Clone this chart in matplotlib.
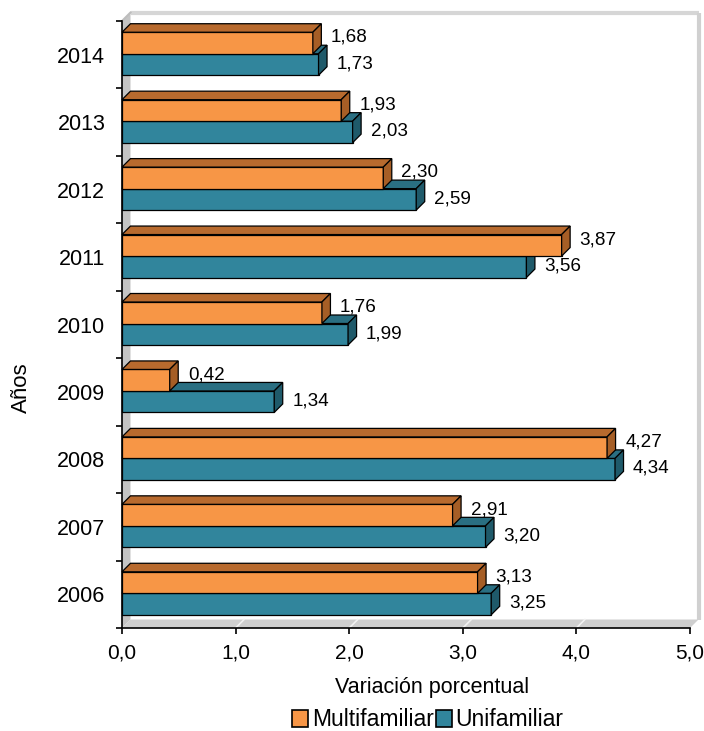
import matplotlib
matplotlib.use('Agg')
import matplotlib.pyplot as plt
from matplotlib.patches import Polygon, Patch
import numpy as np

years = ['2006', '2007', '2008', '2009', '2010', '2011', '2012', '2013', '2014']
multifamiliar = [3.13, 2.91, 4.27, 0.42, 1.76, 3.87, 2.30, 1.93, 1.68]
unifamiliar = [3.25, 3.20, 4.34, 1.34, 1.99, 3.56, 2.59, 2.03, 1.73]
xticks = [0, 1, 2, 3, 4, 5]
xticklabels = ['0,0', '1,0', '2,0', '3,0', '4,0', '5,0']
series_names = ['Multifamiliar', 'Unifamiliar']

plt.rcParams['font.family'] = ['Liberation Sans', 'DejaVu Sans']

W, H = 704, 731
fig = plt.figure(figsize=(W / 100, H / 100), dpi=100)
L, R, T, B = 122, 690, 21, 628
ax = fig.add_axes([L / W, 1 - B / H, (R - L) / W, (B - T) / H])
n = len(years)
XMAX = 5
ax.set_xlim(0, XMAX)
ax.set_ylim(-0.5, n - 0.5)
pxx = XMAX / (R - L)
pxy = n / (B - T)
DX = 8.5 * pxx
DY = 8.5 * pxy
bh = 21.5 * pxy
shift = 1 * pxy

ORANGE = '#F79646'
ORANGE_TOP = '#B86A2E'
ORANGE_SIDE = '#A65E26'
BLUE = '#31859C'
BLUE_TOP = '#2A6F82'
BLUE_SIDE = '#1F5A6A'

# walls
ylo, yhi = -0.5, n - 0.5
ax.add_patch(Polygon([(0, ylo), (0, yhi), (DX, yhi + DY), (DX, ylo + DY)],
                     closed=True, fc='#C4C4C4', ec='none', zorder=1, clip_on=False))
ax.add_patch(Polygon([(0, ylo), (XMAX, ylo), (XMAX + DX, ylo + DY), (DX, ylo + DY)],
                     closed=True, fc='#CFCFCF', ec='none', zorder=1, clip_on=False))
ax.plot([DX, XMAX + DX], [yhi + DY, yhi + DY], color='#D6D6D6', lw=3, zorder=1,
        clip_on=False, solid_capstyle='butt')
ax.plot([0, DX], [yhi, yhi + DY], color='#BDBDBD', lw=1.5, zorder=1, clip_on=False)
ax.plot([XMAX + DX, XMAX + DX], [ylo + DY, yhi + DY], color='#D0D0D0', lw=3,
        zorder=1, clip_on=False, solid_capstyle='butt')
for xv in xticks[1:-1]:
    ax.plot([xv, xv + DX], [ylo, ylo + DY], color='#F2F2F2', lw=1.2, zorder=1.5,
            clip_on=False)

def depth(y0, v, top, side, z):
    y1 = y0 + bh
    ax.add_patch(Polygon([(0, y1), (v, y1), (v + DX, y1 + DY), (DX, y1 + DY)],
                         closed=True, fc=top, ec='black', lw=0.9, zorder=z, clip_on=False))
    ax.add_patch(Polygon([(v, y0), (v, y1), (v + DX, y1 + DY), (v + DX, y0 + DY)],
                         closed=True, fc=side, ec='black', lw=0.9, zorder=z, clip_on=False))

ypos = np.arange(n)
blue_y0 = ypos + shift - bh
orange_y0 = ypos + shift

ax.barh(blue_y0, unifamiliar, height=bh, align='edge', color=BLUE,
        edgecolor='black', linewidth=0.9, zorder=3, clip_on=False)
for y0, v in zip(blue_y0, unifamiliar):
    depth(y0, v, BLUE_TOP, BLUE_SIDE, 3)
ax.barh(orange_y0, multifamiliar, height=bh, align='edge', color=ORANGE,
        edgecolor='black', linewidth=0.9, zorder=4, clip_on=False)
for y0, v in zip(orange_y0, multifamiliar):
    depth(y0, v, ORANGE_TOP, ORANGE_SIDE, 4)

def fmt(v):
    return f'{v:.2f}'.replace('.', ',')

for y0, v in zip(orange_y0, multifamiliar):
    ax.annotate(fmt(v), (v, y0 + bh / 2), xytext=(13, 4), textcoords='offset points',
                ha='left', va='center', fontsize=13.6, zorder=6, annotation_clip=False)
for y0, v in zip(blue_y0, unifamiliar):
    ax.annotate(fmt(v), (v, y0 + bh / 2), xytext=(13, 0.5), textcoords='offset points',
                ha='left', va='center', fontsize=13.6, zorder=6, annotation_clip=False)

# axes styling
for s in ['top', 'right']:
    ax.spines[s].set_visible(False)
for s in ['left', 'bottom']:
    ax.spines[s].set_color('black')
    ax.spines[s].set_linewidth(1.2)
    ax.spines[s].set_zorder(5)
ax.set_xticks(xticks)
ax.set_xticklabels(xticklabels, fontsize=15)
ax.tick_params(axis='x', direction='out', length=4, width=1.2, pad=7)
ax.set_yticks(ypos)
ax.set_yticklabels(years, fontsize=15.5)
ax.set_yticks(np.arange(n + 1) - 0.5, minor=True)
ax.tick_params(axis='y', which='major', length=0, pad=12)
ax.tick_params(axis='y', which='minor', direction='out', length=4, width=1.2)
ax.set_facecolor('white')

fig.text(432 / W, 1 - 688 / H, 'Variación porcentual', ha='center',
         va='center', fontsize=15.5)
fig.text(21 / W, 1 - 388 / H, 'Años', rotation=90, ha='center', va='center', fontsize=16)

handles = [Patch(facecolor=ORANGE, edgecolor='black', linewidth=1.2),
           Patch(facecolor=BLUE, edgecolor='black', linewidth=1.2)]
fig.legend(handles, series_names, loc='center', bbox_to_anchor=(428 / W, 1 - 720 / H),
           ncol=2, frameon=False, fontsize=16.5, handlelength=0.7, handleheight=0.7,
           handletextpad=0.15, columnspacing=0.1, borderaxespad=0, borderpad=0)

fig.savefig('out.png', dpi=100, facecolor='white')
